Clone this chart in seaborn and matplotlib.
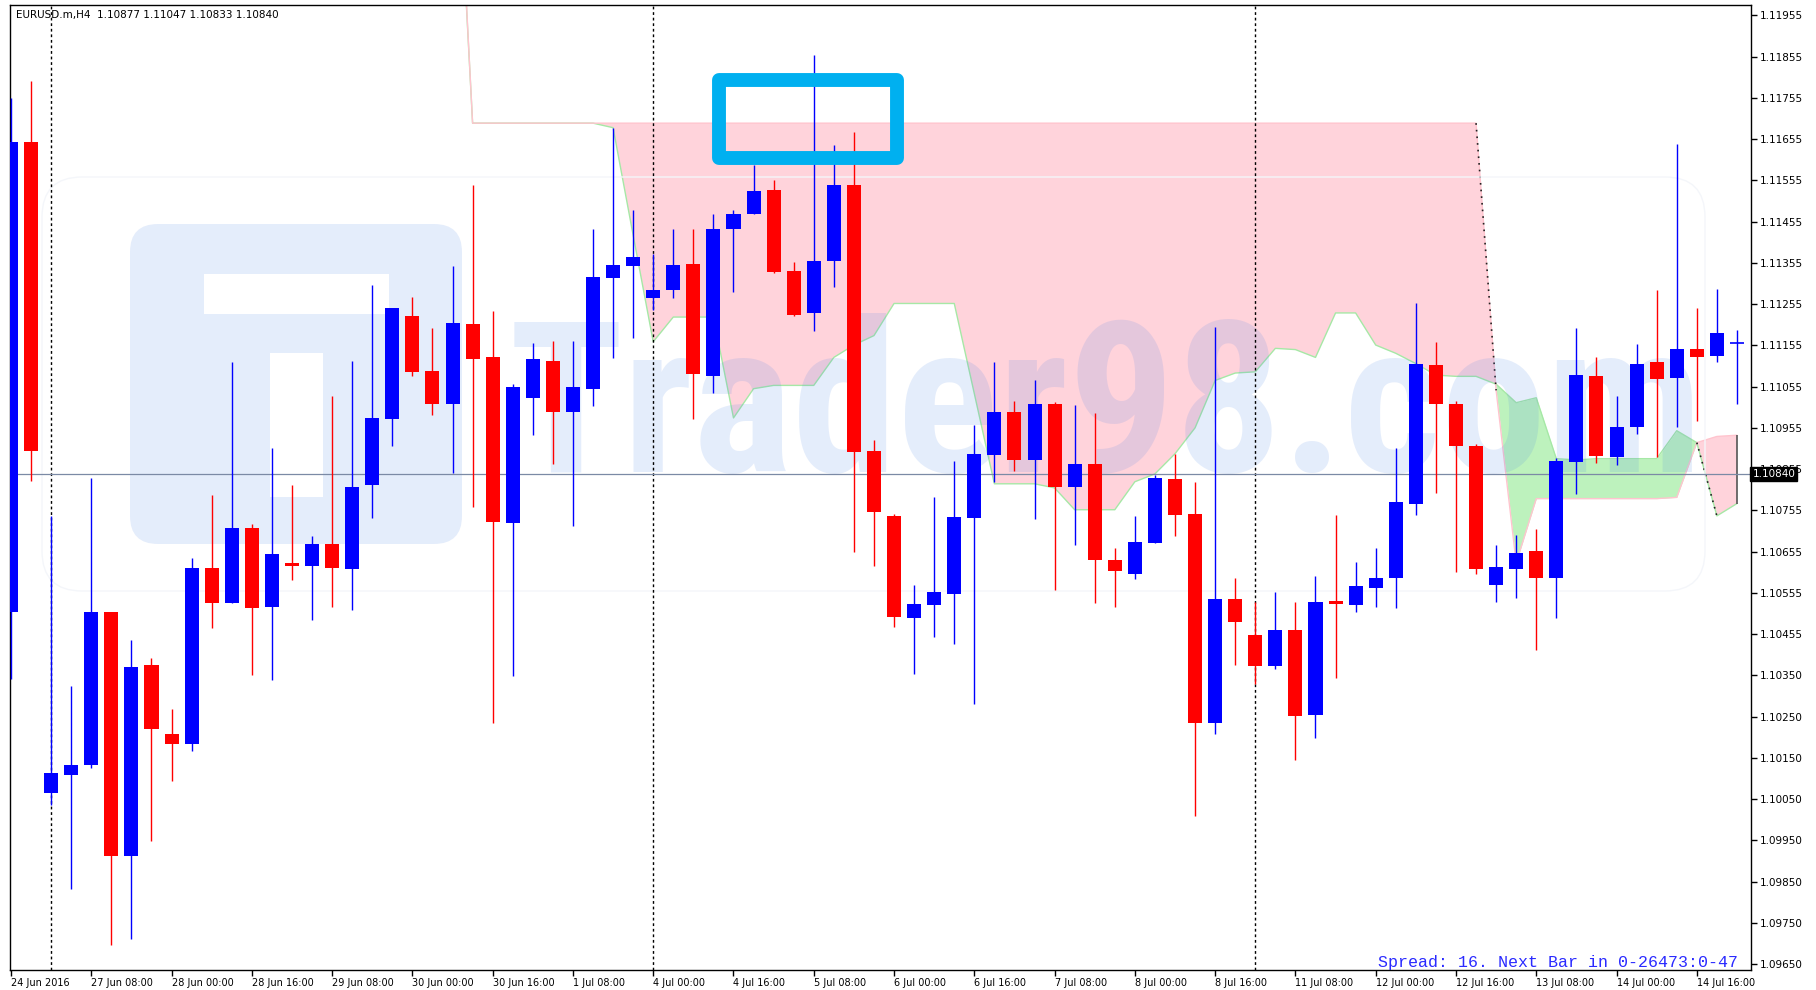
import numpy as np
import pandas as pd
import matplotlib
matplotlib.use("Agg")
import matplotlib.pyplot as plt
import matplotlib.transforms as mtransforms
from matplotlib import font_manager
from matplotlib.font_manager import FontProperties
from matplotlib.patches import FancyBboxPatch, Rectangle
import seaborn as sns

# ---------------- data ----------------
opens = [1.10505, 1.11648, 1.10067, 1.10109, 1.10133, 1.10505, 1.09913, 1.10376, 1.10210, 1.10186,
         1.10613, 1.10527, 1.10710, 1.10517, 1.10625, 1.10618, 1.10671, 1.10609, 1.10813, 1.10974,
         1.11225, 1.11091, 1.11011, 1.11204, 1.11124, 1.10721, 1.11026, 1.11115, 1.10992, 1.11048,
         1.11317, 1.11347, 1.11269, 1.11287, 1.11352, 1.11080, 1.11436, 1.11473, 1.11531, 1.11334,
         1.11232, 1.11358, 1.11542, 1.10896, 1.10739, 1.10490, 1.10523, 1.10550, 1.10733, 1.10887,
         1.10991, 1.10875, 1.11010, 1.10810, 1.10866, 1.10633, 1.10597, 1.10672, 1.10829, 1.10743,
         1.10237, 1.10538, 1.10450, 1.10375, 1.10461, 1.10255, 1.10532, 1.10523, 1.10564, 1.10588,
         1.10767, 1.11106, 1.11010, 1.10909, 1.10570, 1.10609, 1.10653, 1.10588, 1.10870, 1.11078,
         1.10882, 1.10956, 1.11112, 1.11074, 1.11145, 1.11128, 1.11160]
highs = [1.11755, 1.11796, 1.10739, 1.10325, 1.10832, 1.10505, 1.10437, 1.10394, 1.10271, 1.10637,
         1.10789, 1.11113, 1.10719, 1.10905, 1.10814, 1.10690, 1.11030, 1.11115, 1.11300, 1.11243,
         1.11270, 1.11195, 1.11346, 1.11542, 1.11237, 1.11060, 1.11158, 1.11165, 1.11165, 1.11436,
         1.11682, 1.11483, 1.11376, 1.11436, 1.11436, 1.11473, 1.11482, 1.11592, 1.11554, 1.11355,
         1.11859, 1.11640, 1.11672, 1.10923, 1.10744, 1.10571, 1.10784, 1.10872, 1.10959, 1.11112,
         1.11018, 1.11069, 1.11016, 1.11009, 1.10989, 1.10660, 1.10739, 1.10838, 1.10890, 1.10822,
         1.11198, 1.10588, 1.10530, 1.10553, 1.10530, 1.10592, 1.10742, 1.10628, 1.10662, 1.10905,
         1.11257, 1.11162, 1.11018, 1.10914, 1.10668, 1.10693, 1.10707, 1.10879, 1.11195, 1.11125,
         1.11030, 1.11157, 1.11288, 1.11643, 1.11243, 1.11291, 1.11190]
lows = [1.10342, 1.10825, 1.10037, 1.09833, 1.10127, 1.09697, 1.09712, 1.09949, 1.10094, 1.10168,
        1.10467, 1.10527, 1.10352, 1.10340, 1.10583, 1.10487, 1.10517, 1.10511, 1.10734, 1.10909,
        1.11080, 1.10983, 1.10844, 1.10760, 1.10236, 1.10349, 1.10935, 1.10864, 1.10714, 1.11007,
        1.11122, 1.11171, 1.11240, 1.11269, 1.10974, 1.11038, 1.11284, 1.11473, 1.11328, 1.11225,
        1.11189, 1.11294, 1.10651, 1.10618, 1.10470, 1.10354, 1.10444, 1.10429, 1.10281, 1.10822,
        1.10849, 1.10731, 1.10558, 1.10669, 1.10527, 1.10518, 1.10585, 1.10672, 1.10690, 1.10011,
        1.10210, 1.10376, 1.10331, 1.10367, 1.10147, 1.10200, 1.10346, 1.10505, 1.10517, 1.10515,
        1.10742, 1.10795, 1.10603, 1.10597, 1.10530, 1.10539, 1.10414, 1.10490, 1.10792, 1.10867,
        1.10862, 1.10937, 1.10882, 1.10956, 1.10970, 1.11113, 1.11012]
closes = [1.11648, 1.10897, 1.10114, 1.10133, 1.10505, 1.09913, 1.10372, 1.10222, 1.10186, 1.10613,
          1.10527, 1.10710, 1.10515, 1.10647, 1.10618, 1.10671, 1.10613, 1.10808, 1.10976, 1.11243,
          1.11089, 1.11011, 1.11207, 1.11119, 1.10724, 1.11051, 1.11121, 1.10992, 1.11051, 1.11319,
          1.11349, 1.11368, 1.11288, 1.11349, 1.11083, 1.11436, 1.11473, 1.11528, 1.11332, 1.11228,
          1.11358, 1.11542, 1.10894, 1.10749, 1.10493, 1.10526, 1.10553, 1.10736, 1.10890, 1.10991,
          1.10875, 1.11010, 1.10810, 1.10866, 1.10633, 1.10606, 1.10675, 1.10832, 1.10742, 1.10237,
          1.10538, 1.10482, 1.10375, 1.10461, 1.10252, 1.10530, 1.10524, 1.10568, 1.10588, 1.10772,
          1.11109, 1.11010, 1.10908, 1.10609, 1.10614, 1.10650, 1.10589, 1.10872, 1.11081, 1.10885,
          1.10956, 1.11109, 1.11071, 1.11145, 1.11125, 1.11184, 1.11160]

nan = np.nan
span_a = [nan] * 22 + [
    1.12620, 1.11693, 1.11693, 1.11693, 1.11693, 1.11693, 1.11693, 1.11693,
    1.11682, 1.11421, 1.11162, 1.11222, 1.11222, 1.11222, 1.10977, 1.11048, 1.11056, 1.11056,
    1.11056, 1.11124, 1.11154, 1.11177, 1.11255, 1.11255, 1.11255, 1.11255, 1.11036, 1.10817,
    1.10817, 1.10817, 1.10807, 1.10754, 1.10754, 1.10754, 1.10822, 1.10841, 1.10890, 1.10953,
    1.11068, 1.11086, 1.11089, 1.11146, 1.11143, 1.11124, 1.11232, 1.11232, 1.11154, 1.11134,
    1.11109, 1.11081, 1.11078, 1.11078, 1.11059, 1.11014, 1.11026, 1.10878, 1.10875, 1.10878,
    1.10878, 1.10878, 1.10878, 1.10946, 1.10917, 1.10739, 1.10769]
span_b = [nan] * 22 + [1.12640] + [1.11693] * 51 + [
    1.11044, 1.10625, 1.10781, 1.10781, 1.10781, 1.10781, 1.10781, 1.10781, 1.10781,
    1.10784, 1.10917, 1.10932, 1.10935]

x_tick_bars = list(range(0, 87, 4))
x_labels = ["24 Jun 2016", "27 Jun 08:00", "28 Jun 00:00", "28 Jun 16:00", "29 Jun 08:00",
            "30 Jun 00:00", "30 Jun 16:00", "1 Jul 08:00", "4 Jul 00:00", "4 Jul 16:00",
            "5 Jul 08:00", "6 Jul 00:00", "6 Jul 16:00", "7 Jul 08:00", "8 Jul 00:00",
            "8 Jul 16:00", "11 Jul 08:00", "12 Jul 00:00", "12 Jul 16:00", "13 Jul 08:00",
            "14 Jul 00:00", "14 Jul 16:00"]
y_labels = ["1.11955", "1.11855", "1.11755", "1.11655", "1.11555", "1.11455", "1.11355",
            "1.11255", "1.11155", "1.11055", "1.10955", "1.10855", "1.10755", "1.10655",
            "1.10555", "1.10455", "1.10350", "1.10250", "1.10150", "1.10050", "1.09950",
            "1.09850", "1.09750", "1.09650"]
separator_bars = [2, 32, 62]
current_price = 1.10840
title_text = "EURUSD.m,H4  1.10877 1.11047 1.10833 1.10840"
spread_text = "Spread: 16. Next Bar in 0-26473:0-47"
watermark_text = "Trader98.com"

df = pd.DataFrame({"open": opens, "high": highs, "low": lows, "close": closes})
df["bar"] = np.arange(len(df))
cloud = pd.DataFrame({"bar": np.arange(len(span_a)), "a": span_a, "b": span_b})

# ---------------- style ----------------
sns.set_theme(style="white")
plt.rcParams["font.family"] = ["DejaVu Sans"]
plt.rcParams["axes.edgecolor"] = "black"
plt.rcParams["axes.linewidth"] = 1.0

W, H = 1816, 990
fig = plt.figure(figsize=(W / 100, H / 100), dpi=100)
ax = fig.add_axes([10 / W, 20 / H, 1741 / W, 965 / H])
ax.set_facecolor("white")

BLUE = "#0000ff"
RED = "#ff0000"
PINK = "#ffd3db"
GREEN = "#bdf2bd"


def pick_watermark_font():
    fonts = font_manager.fontManager.ttflist
    prefs = ["Liberation Sans Narrow", "Roboto Condensed", "Open Sans Condensed",
             "DejaVu Sans Condensed"]
    for name in prefs:
        for f in fonts:
            if f.name == name and (f.weight in ("bold", 700) or str(f.weight) == "700") and f.style == "normal":
                return FontProperties(fname=f.fname)
    for f in fonts:
        if f.stretch in ("condensed", "semi-condensed", "extra-condensed") and \
                str(f.weight) in ("bold", "700") and f.style == "normal":
            return FontProperties(fname=f.fname)
    return FontProperties(family=["Liberation Sans", "DejaVu Sans"], weight="bold")


# ---------------- cloud ----------------
a = cloud["a"].to_numpy()
b = cloud["b"].to_numpy()
xb = cloud["bar"].to_numpy()
ax.fill_between(xb, a, b, where=(b >= a), interpolate=True, color=PINK, lw=0, zorder=1)
ax.fill_between(xb, a, b, where=(a > b), interpolate=True, color=GREEN, lw=0, zorder=1)
sns.lineplot(data=cloud, x="bar", y="a", ax=ax, color="#a6e8a6", lw=1, zorder=1.2, legend=False)
sns.lineplot(data=cloud, x="bar", y="b", ax=ax, color="#ffc4ce", lw=1, zorder=1.3, legend=False)
ax.plot(xb[73:75], b[73:75], ls=(0, (1, 3)), color="#222222", lw=1.2, zorder=1.4)
ax.plot(xb[84:86], a[84:86], ls=(0, (1, 3)), color="#222222", lw=1.2, zorder=1.4)
ax.vlines(xb[86], a[86], b[86], color="#555555", lw=1.2, zorder=1.4)

# ---------------- watermark ----------------
ident = mtransforms.IdentityTransform()
outer = FancyBboxPatch((82, 990 - 591 + 40), 1663 - 80, 414 - 80,
                       boxstyle="round,pad=40", transform=ident,
                       facecolor="none", edgecolor="#f4f6fa", lw=1, zorder=1.5)
ax.add_patch(outer)
logo = FancyBboxPatch((130 + 28, 990 - 544 + 28), 332 - 56, 320 - 56,
                      boxstyle="round,pad=28", transform=ident,
                      facecolor="#4682e6", alpha=0.14, lw=0, zorder=1.55)
ax.add_patch(logo)
ax.add_patch(Rectangle((204, 990 - 314), 185, 40, transform=ident,
                       facecolor="white", lw=0, zorder=1.6))
ax.add_patch(Rectangle((270, 990 - 497), 53, 144, transform=ident,
                       facecolor="white", lw=0, zorder=1.6))

# ---------------- reference lines ----------------
for sb in separator_bars:
    ax.axvline(sb, color="black", lw=1, ls=(0, (2, 2)), zorder=2)
ax.axhline(current_price, color="#7b8aa5", lw=0.9, zorder=2.5)

# ---------------- candles ----------------
up = df["close"] >= df["open"]
colors = np.where(up, BLUE, RED)
ax.vlines(df["bar"], df["low"], df["high"], colors=colors, lw=1.0, zorder=3)
body_bottom = np.minimum(df["open"], df["close"])
body_h = np.abs(df["close"] - df["open"])
ax.bar(df["bar"], body_h, bottom=body_bottom, width=0.7, color=colors, lw=0, zorder=3.1)
doji = body_h < 0.00002
ax.hlines(df.loc[doji, "close"], df.loc[doji, "bar"] - 0.33, df.loc[doji, "bar"] + 0.33,
          colors=colors[doji.to_numpy()], lw=1.2, zorder=3.2)

# ---------------- highlight box ----------------
ax.add_patch(Rectangle((35.26, 1.11608), 44.17 - 35.26, 1.11798 - 1.11608,
                       fill=False, edgecolor="#00b0f0", lw=10, joinstyle="round", zorder=5))

# ---------------- axes ----------------
ax.set_xlim(-0.05, 86.70)
ax.set_ylim(1.09636, 1.11980)
ax.set_xticks(x_tick_bars)
ax.set_xticklabels(x_labels, fontsize=7, ha="left")
ax.yaxis.tick_right()
ax.set_yticks(np.linspace(1.11955, 1.09650, len(y_labels)))
ax.set_yticklabels(y_labels, fontsize=7.5)
ax.tick_params(axis="x", direction="out", length=4, width=1, pad=1.5, colors="black", bottom=True)
ax.tick_params(axis="y", direction="out", length=4, width=1, pad=2, colors="black", right=True)
for s in ax.spines.values():
    s.set_visible(True)
    s.set_color("black")
    s.set_linewidth(1)
ax.set_xlabel("")
ax.set_ylabel("")

# watermark text: left edge at x=509 px, right edge ~1704 px, baseline at y=472 px
wm_fp = pick_watermark_font()
wm_fp.set_size(160)
wm = ax.text(509, 990 - 472, watermark_text, fontproperties=wm_fp, transform=ident,
             color="#4682e6", alpha=0.14, ha="left", va="baseline", zorder=1.7)
fig.canvas.draw()
bb = wm.get_window_extent()
wm_fp.set_size(160 * (1704 - 509) / bb.width)
wm.set_fontproperties(wm_fp)

ax.text(0.0035, 0.9896, title_text, transform=ax.transAxes, fontsize=7.5,
        color="black", ha="left", va="center", zorder=6)
ax.text(0.9925, 0.0075, spread_text, transform=ax.transAxes, fontsize=12,
        family=["Liberation Mono", "DejaVu Sans Mono"], color="#2a2aff",
        ha="right", va="center", zorder=6)
blend = mtransforms.blended_transform_factory(ax.transAxes, ax.transData)
ax.text(1.0008, current_price, "1.10840", transform=blend, fontsize=7.5, color="white",
        ha="left", va="center", zorder=10, clip_on=False,
        bbox=dict(boxstyle="square,pad=0.2", facecolor="black", edgecolor="black"))

fig.savefig("out.png", dpi=100)
